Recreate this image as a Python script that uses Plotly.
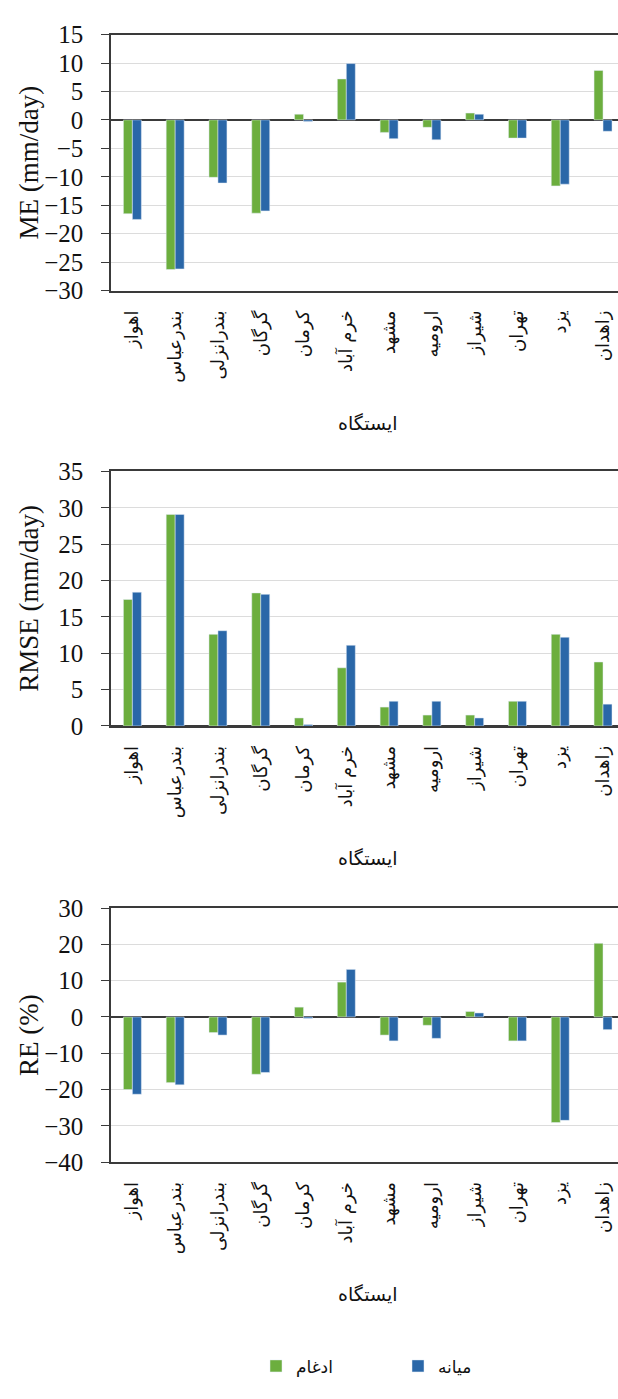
import plotly.graph_objects as go

# Stations (category axis, left to right)
stations = ["اهواز", "بندرعباس", "بندرانزلی", "گرگان", "کرمان", "خرم آباد",
            "مشهد", "ارومیه", "شیراز", "تهران", "یزد", "زاهدان"]

# Series names
name_merge = "ادغام"
name_median = "میانه"

# ME (mm/day)
me_merge = [-16.5, -26.3, -10.1, -16.4, 1.0, 7.2, -2.2, -1.3, 1.2, -3.2, -11.6, 8.7]
me_median = [-17.5, -26.2, -11.1, -16.0, -0.3, 9.9, -3.3, -3.5, 1.0, -3.2, -11.3, -2.0]

# RMSE (mm/day)
rmse_merge = [17.4, 29.1, 12.6, 18.3, 1.1, 8.0, 2.6, 1.5, 1.5, 3.4, 12.6, 8.8]
rmse_median = [18.4, 29.1, 13.1, 18.1, 0.2, 11.1, 3.4, 3.4, 1.1, 3.4, 12.2, 3.0]

# RE (%)
re_merge = [-20.0, -18.1, -4.3, -15.8, 2.7, 9.6, -5.0, -2.3, 1.5, -6.6, -29.1, 20.3]
re_median = [-21.3, -18.7, -5.0, -15.3, -0.4, 13.1, -6.6, -5.9, 1.1, -6.6, -28.5, -3.5]

GREEN = "#6cae3e"
BLUE = "#2a67a8"
DARK = "#3a3a3a"
GRID = "#dcdcdc"
SERIF = "Liberation Serif"
PERSIAN = "DejaVu Sans"

W, H = 618, 1399

def py(px):
    """pixel row from top -> paper y"""
    return 1 - px / H

panels = [
    # (merge, median, y range, dtick, y title, top px, bottom px)
    (me_merge, me_median, [-30, 15], 5, "ME (mm/day)", 22, 283),
    (rmse_merge, rmse_median, [0, 35], 5, "RMSE (mm/day)", 467.5, 727),
    (re_merge, re_median, [-40, 30], 10, "RE (%)", 912.7, 1171.7),
]

fig = go.Figure()
annotations = []
for i, (gm, bm, yr, dt, ytitle, top, bot) in enumerate(panels):
    n = "" if i == 0 else str(i + 1)
    xa, ya = "x" + n, "y" + n
    fig.add_trace(go.Bar(x=stations, y=gm, name=name_merge, marker_color=GREEN,
                         xaxis=xa, yaxis=ya, showlegend=(i == 0),
                         legendrank=1))
    fig.add_trace(go.Bar(x=stations, y=bm, name=name_median, marker_color=BLUE,
                         xaxis=xa, yaxis=ya, showlegend=(i == 0),
                         legendrank=2))
    fig.layout["xaxis" + n] = dict(
        domain=[111 / W, 1], anchor=ya, type="category",
        range=[-0.5, 11.35], showline=True, linecolor=DARK, linewidth=1.5,
        mirror=True, ticks="", showgrid=False, tickangle=-90,
        ticklabelstandoff=11,
        tickfont=dict(family=PERSIAN, size=18, color="#111"),
    )
    fig.layout["yaxis" + n] = dict(
        domain=[py(bot), py(top)], anchor=xa, range=yr, dtick=dt,
        showline=True, linecolor=DARK, linewidth=1.5, ticks="outside",
        ticklen=8, tickcolor=DARK, tickwidth=1.2, showgrid=True,
        gridcolor=GRID, gridwidth=1, zeroline=True, zerolinecolor=DARK,
        zerolinewidth=1.5, ticklabelstandoff=13,
        tickfont=dict(family=SERIF, size=25, color="#111"),
    )
    annotations.append(dict(
        text=ytitle, textangle=-90, xref="paper", yref="paper",
        x=29 / W, y=py((top + bot) / 2), xanchor="center", yanchor="middle",
        showarrow=False, font=dict(family=SERIF, size=27, color="#111")))
    annotations.append(dict(
        text="ایستگاه", xref="paper", yref="paper",
        x=368 / W, y=py(bot + 135), xanchor="center", yanchor="middle",
        showarrow=False, font=dict(family=PERSIAN, size=19, color="#111")))

fig.update_layout(
    width=W, height=H,
    margin=dict(l=0, r=0, t=0, b=0),
    paper_bgcolor="white", plot_bgcolor="white",
    barmode="group", bargap=0.58, bargroupgap=0,
    annotations=annotations,
    legend=dict(orientation="h", x=256 / W, y=py(1380), xanchor="left",
                yanchor="middle", traceorder="normal",
                entrywidth=97, entrywidthmode="pixels",
                font=dict(family=PERSIAN, size=17, color="#111")),
)

fig.write_html("out.html")
